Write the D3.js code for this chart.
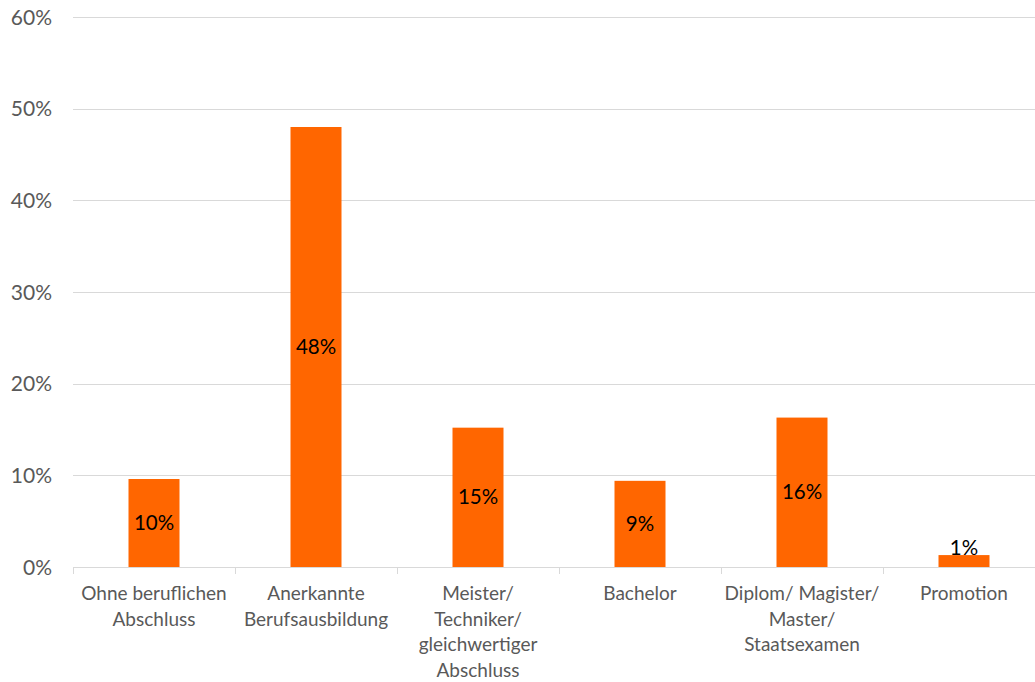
<!DOCTYPE html>
<html><head><meta charset="utf-8">
<script src="https://cdn.jsdelivr.net/npm/d3@7"></script>
<style>body{margin:0;background:#fff}svg{display:block}</style>
</head><body>
<svg id="c" width="1035" height="682"></svg>
<script>
const categories = [
  ["Ohne beruflichen","Abschluss"],
  ["Anerkannte","Berufsausbildung"],
  ["Meister/","Techniker/","gleichwertiger","Abschluss"],
  ["Bachelor"],
  ["Diplom/ Magister/","Master/","Staatsexamen"],
  ["Promotion"]
];
const values = [0.096, 0.480, 0.152, 0.094, 0.163, 0.013];
const yTicks = [0, 0.1, 0.2, 0.3, 0.4, 0.5, 0.6];

(function(){
const svg = d3.select("#c");
const font = "Lato, 'Open Sans', sans-serif";
const left = 73, bandW = 162, plotTop = 17, bottom = 567;
const x = d3.scaleBand().domain(d3.range(categories.length)).range([left, left + bandW*categories.length]).paddingInner(0).paddingOuter(0);
const y = d3.scaleLinear().domain([0, 0.6]).range([bottom, plotTop]);

svg.append("g").selectAll("line").data(yTicks.slice(1)).join("line")
  .attr("x1", left).attr("x2", 1035).attr("y1", d=>Math.round(y(d))+0.5).attr("y2", d=>Math.round(y(d))+0.5)
  .attr("stroke", "#d9d9d9").attr("stroke-width", 1);

svg.append("g").selectAll("text").data(yTicks).join("text")
  .attr("x", 52).attr("y", d=>y(d)).attr("dy", "0.36em").attr("text-anchor","end")
  .attr("font-family", font).attr("font-size", 21).attr("fill", "#595959")
  .text(d3.format(".0%"));

const bw = 51;
svg.append("g").selectAll("rect").data(values).join("rect")
  .attr("x", (d,i)=>x(i)+x.bandwidth()/2-bw/2).attr("width", bw)
  .attr("y", d=>y(d)).attr("height", d=>bottom-y(d))
  .attr("fill", "#ff6600");

svg.append("line").attr("x1", left).attr("x2", 1035).attr("y1", bottom+0.5).attr("y2", bottom+0.5)
  .attr("stroke", "#d9d9d9");
svg.append("g").selectAll("line").data(d3.range(categories.length+1)).join("line")
  .attr("x1", i=>left+i*bandW+0.5).attr("x2", i=>left+i*bandW+0.5)
  .attr("y1", bottom).attr("y2", bottom+7).attr("stroke", "#d9d9d9");

svg.append("g").selectAll("text").data(values).join("text")
  .attr("x", (d,i)=>x(i)+x.bandwidth()/2)
  .attr("y", d=>(bottom - y(d)) > 22 ? (y(d)+bottom)/2 + 7 : y(d))
  .attr("text-anchor","middle").attr("font-family", font).attr("font-size", 20.5).attr("fill","#000")
  .text(d=>d3.format(".0%")(d));

const cg = svg.append("g").selectAll("text").data(categories).join("text")
  .attr("x", (d,i)=>x(i)+x.bandwidth()/2).attr("y", 600)
  .attr("text-anchor","middle").attr("font-family", font).attr("font-size", 19).attr("fill","#595959");
cg.selectAll("tspan").data(d=>d).join("tspan")
  .attr("x", function(){return this.parentNode.getAttribute("x");})
  .attr("dy", (d,i)=>i===0?0:25.7).text(d=>d);
})();
</script>
</body></html>
